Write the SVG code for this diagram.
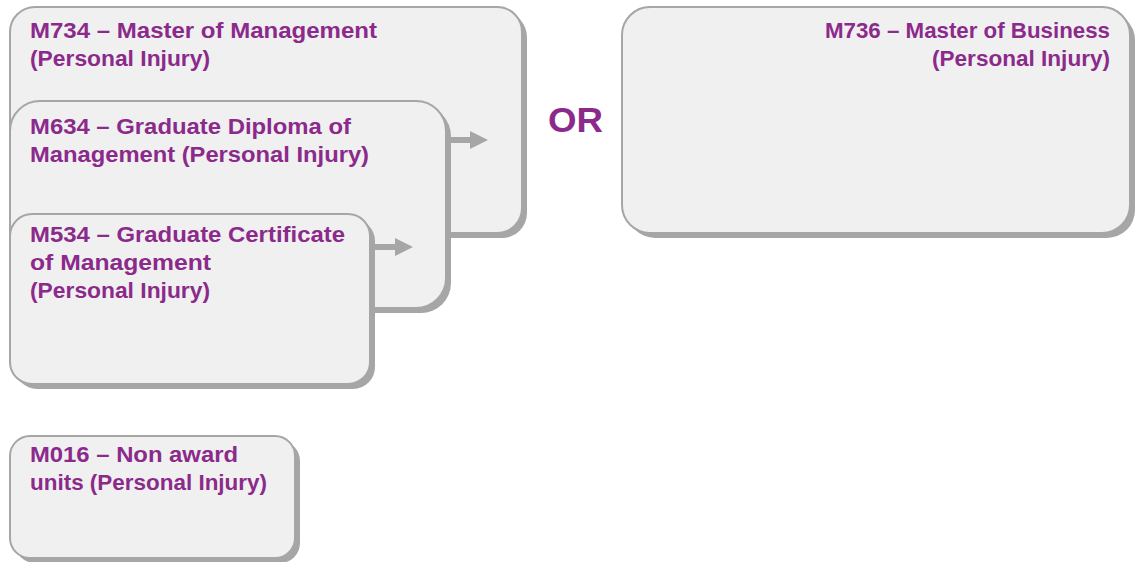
<svg xmlns="http://www.w3.org/2000/svg" width="1144" height="562" viewBox="0 0 1144 562">
<style>
.sh{fill:#a6a6a7;}
.bx{fill:#f0f0f0;stroke:#a6a6a7;stroke-width:2;}
.t{font-family:"Liberation Sans",Arial,sans-serif;font-weight:bold;font-size:22px;fill:#8b2a8b;}
.ar{stroke:#a6a6a7;stroke-width:6;fill:none;}
.ah{fill:#a6a6a7;}
</style>
<rect width="1144" height="562" fill="#ffffff"/>
<g id="node-m734">
<rect class="sh" x="15" y="12" width="512" height="226" rx="25"/>
<rect class="bx" x="10" y="7" width="512" height="226" rx="25"/>
<text class="t" x="30" y="38" textLength="347" lengthAdjust="spacingAndGlyphs">M734 – Master of Management</text>
<text class="t" x="30" y="66" textLength="180" lengthAdjust="spacingAndGlyphs">(Personal Injury)</text>
</g>
<g id="node-m634">
<rect class="sh" x="15" y="106" width="436" height="207" rx="30"/>
<rect class="bx" x="10" y="101" width="436" height="207" rx="30"/>
<text class="t" x="30" y="134" textLength="321" lengthAdjust="spacingAndGlyphs">M634 – Graduate Diploma of</text>
<text class="t" x="30" y="162" textLength="339" lengthAdjust="spacingAndGlyphs">Management (Personal Injury)</text>
</g>
<g id="node-m534">
<rect class="sh" x="15" y="219" width="360" height="170" rx="22"/>
<rect class="bx" x="10" y="214" width="360" height="170" rx="22"/>
<text class="t" x="30" y="242" textLength="315" lengthAdjust="spacingAndGlyphs">M534 – Graduate Certificate</text>
<text class="t" x="30" y="270" textLength="181" lengthAdjust="spacingAndGlyphs">of Management</text>
<text class="t" x="30" y="298" textLength="180" lengthAdjust="spacingAndGlyphs">(Personal Injury)</text>
</g>
<g id="node-m016">
<rect class="sh" x="15" y="441" width="285" height="122" rx="20"/>
<rect class="bx" x="10" y="436" width="285" height="122" rx="20"/>
<text class="t" x="30" y="462" textLength="208" lengthAdjust="spacingAndGlyphs">M016 – Non award</text>
<text class="t" x="30" y="490" textLength="237" lengthAdjust="spacingAndGlyphs">units (Personal Injury)</text>
</g>
<g id="node-m736">
<rect class="sh" x="627" y="12" width="508" height="226" rx="28"/>
<rect class="bx" x="622" y="7" width="508" height="226" rx="28"/>
<text class="t" x="1110" y="38" text-anchor="end" textLength="285" lengthAdjust="spacingAndGlyphs">M736 – Master of Business</text>
<text class="t" x="1110" y="66" text-anchor="end" textLength="178" lengthAdjust="spacingAndGlyphs">(Personal Injury)</text>
</g>
<g id="or-label">
<text x="548" y="132" textLength="55" lengthAdjust="spacingAndGlyphs" style="font-family:'Liberation Sans',Arial,sans-serif;font-weight:bold;font-size:35px;fill:#8b2a8b;">OR</text>
</g>
<g id="connectors">
<line class="ar" x1="450" y1="140" x2="472" y2="140"/>
<polygon class="ah" points="470,131 488,140 470,149"/>
<line class="ar" x1="374" y1="247" x2="397" y2="247"/>
<polygon class="ah" points="395,238 413,247 395,256"/>
</g>
</svg>
